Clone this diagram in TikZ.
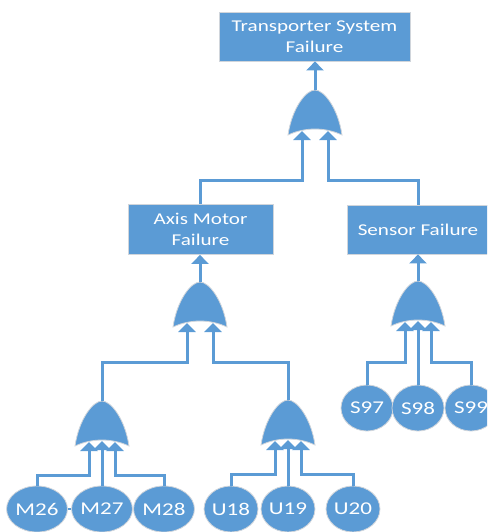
\documentclass[tikz,border=0pt]{standalone}
\usepackage{fontspec}
\setmainfont[FakeStretch=1.28]{Carlito}
\usetikzlibrary{arrows.meta,shapes.geometric}
\definecolor{ofblue}{HTML}{5B9BD5}
\definecolor{edgegray}{HTML}{D0D5DB}
\newcommand\fgate[3]{%
  \path[gatefill] (#2-27,#3+45) .. controls (#2-23,#3+18) and (#2-9,#3) .. (#2,#3)
    .. controls (#2+9,#3) and (#2+23,#3+18) .. (#2+27,#3+45)
    .. controls (#2+10,#3+37) and (#2-10,#3+37) .. cycle;
  \coordinate (#1-out) at (#2,#3);
  \coordinate (#1-a) at (#2-13,#3+41);
  \coordinate (#1-b) at (#2,#3+40);
  \coordinate (#1-c) at (#2+13,#3+41);
}
\begin{document}
\begin{tikzpicture}[x=1pt,y=-1pt,
  box/.style={draw=edgegray,line width=0.8pt,fill=ofblue,text=white,align=center,inner sep=0pt,
    font=\fontsize{16.5}{21}\selectfont},
  evt/.style={ellipse,draw=edgegray,line width=0.8pt,fill=ofblue,text=white,inner sep=0pt,
    minimum width=52pt,minimum height=46pt,font=\fontsize{18}{20}\selectfont},
  conn/.style={draw=ofblue,line width=3pt},
  arr/.style={conn,-{Triangle[width=17pt,length=9pt]}},
  gatefill/.style={fill=ofblue,draw=edgegray,line width=0.8pt}]
\useasboundingbox (0,0) rectangle (487,532);
\clip (0,0) rectangle (487,532);

% boxes
\node[box,minimum width=191pt,minimum height=49pt] (T) at (314.5,36.5) {Transporter System\\Failure};
\node[box,minimum width=145pt,minimum height=50pt] (A) at (200.5,229.5) {Axis Motor\\Failure};
\node[box,minimum width=142pt,minimum height=49pt] (S) at (418,229.5) {Sensor Failure};

% gates
\fgate{G0}{315}{90}
\fgate{G1}{200}{282}
\fgate{G2}{102}{401}
\fgate{G3}{288}{400}
\fgate{G4}{418}{281}

% basic events
\node[evt] (M26) at (37,509) {M26};
\node[evt] (M27) at (102,509) {M27};
\node[evt] (M28) at (164,509) {M28};
\node[evt] (U18) at (231,509) {U18};
\node[evt] (U19) at (288,509) {U19};
\node[evt] (U20) at (353,509) {U20};
\node[evt] (S97) at (367,408) {S97};
\node[evt] (S98) at (418,408) {S98};
\node[evt] (S99) at (471,408) {S99};

% connectors
\draw[arr] (G0-out) -- (G0-out |- T.south);
\draw[arr] (A.north) -- (A.north |- 0,180) -| (G0-a);
\draw[arr] (S.north) -- (S.north |- 0,180) -| (G0-c);

\draw[arr] (G1-out) -- (G1-out |- A.south);
\draw[arr] (G2-out) -- (G2-out |- 0,362) -| (G1-a);
\draw[arr] (G3-out) -- (G3-out |- 0,362) -| (G1-c);

\draw[arr] (G4-out) -- (G4-out |- S.south);
\draw[arr] (S97.north) -- (S97.north |- 0,362) -| (G4-a);
\draw[arr] (S98.north) -- (G4-b);
\draw[arr] (S99.north) -- (S99.north |- 0,362) -| (G4-c);

\draw[arr] (M26.north) -- (M26.north |- 0,475) -| (G2-a);
\draw[arr] (M27.north) -- (G2-b);
\draw[arr] (M28.north) -- (M28.north |- 0,475) -| (G2-c);

\draw[arr] (U18.north) -- (U18.north |- 0,474) -| (G3-a);
\draw[arr] (U19.north) -- (G3-b);
\draw[arr] (U20.north) -- (U20.north |- 0,474) -| (G3-c);

\draw[draw=ofblue,line width=2pt] (M26) -- (M27);
\end{tikzpicture}
\end{document}
